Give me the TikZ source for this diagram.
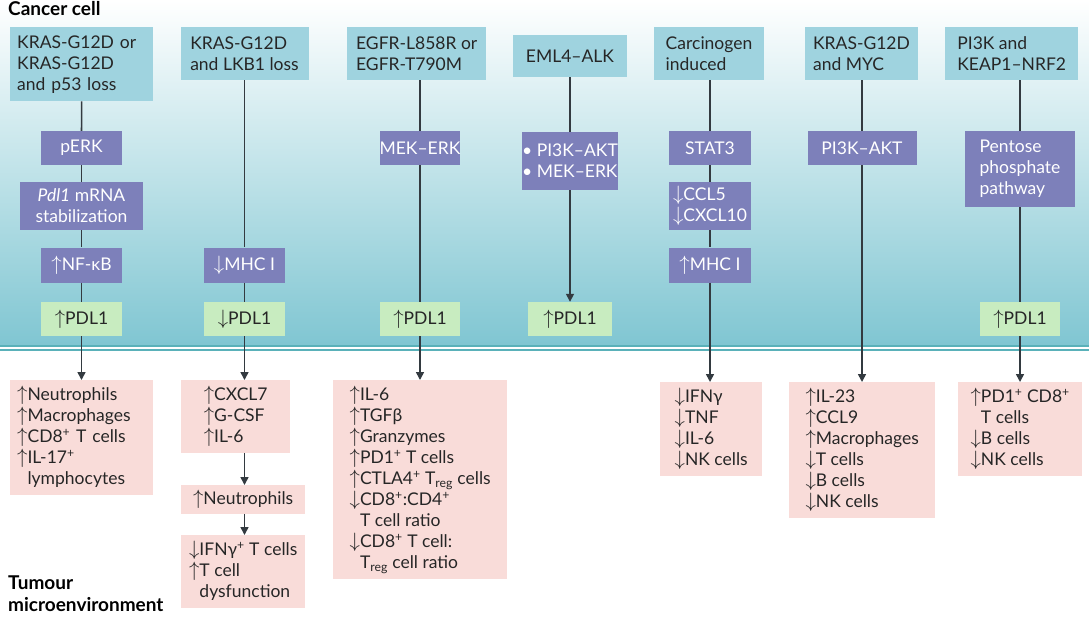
\documentclass[tikz,border=0pt]{standalone}
\usepackage{fontspec}
\setmainfont{Lato}
\usetikzlibrary{arrows.meta}
\definecolor{topc}{HTML}{9FD3DF}
\definecolor{purp}{HTML}{7D80BA}
\definecolor{grn}{HTML}{C8ECC0}
\definecolor{pnk}{HTML}{F9DCD9}
\definecolor{tealb}{HTML}{80C6D2}
\definecolor{lnc}{HTML}{333A40}
\newcommand\myup{{\fontsize{20}{20}\selectfont$\uparrow$}}
\newcommand\mydn{{\fontsize{20}{20}\selectfont$\downarrow$}}
\begin{document}
\begin{tikzpicture}[x=1pt,y=-1pt,
  every node/.style={font=\fontsize{17.5}{21}\selectfont, inner sep=0pt, anchor=north west},
  topb/.style={fill=topc, align=left, text=black!85, inner xsep=7pt, inner ysep=3pt},
  pur/.style={fill=purp, align=center, text=white},
  gr/.style={fill=grn, align=center, text=black!85},
  pk/.style={fill=pnk, align=left, text=black!85, inner xsep=7pt, inner ysep=6pt},
  ln/.style={draw=lnc, line width=1.6pt},
  ar/.style={ln, -{Triangle[width=8pt,length=8pt]}},
  hd/.style={font=\fontsize{19}{22}\selectfont\bfseries, align=left}]
\useasboundingbox (0,0) rectangle (1089,622);
\shade[top color=white, bottom color=tealb] (0,0) rectangle (1089,345);
\fill[white] (0,345) rectangle (1089,622);
\draw[draw=tealb!70!teal, line width=1.2pt] (0,346) -- (1089,346);
\draw[draw=tealb!70!teal, line width=1.2pt] (0,350) -- (1089,350);
\node[hd] (cc) at (8,1) {Cancer cell};
\node[hd] (tm) at (8,576) {Tumour\\microenvironment};
% column 1
\node[topb, minimum width=143pt, minimum height=74pt, text width=129pt] (t1) at (10,27) {KRAS-G12D or\\KRAS-G12D\\and p53 loss};
\node[pur, minimum width=81pt, minimum height=34pt, anchor=center] (a1) at (81.5,148) {pERK};
\node[pur, minimum width=123pt, minimum height=48pt, anchor=center] (b1) at (81.5,206) {\textit{Pdl1} mRNA\\stabilization};
\node[pur, minimum width=81pt, minimum height=35pt, anchor=center] (c1) at (81.5,265) {\myup NF-κB};
\node[gr, minimum width=81pt, minimum height=34pt, anchor=center] (g1) at (81.5,319) {\myup PDL1};
\node[pk, minimum width=143pt, text width=129pt] (p1) at (10,380) {\myup Neutrophils\\\myup Macrophages\\\myup CD8\textsuperscript{+} T cells\\\myup IL-17\textsuperscript{+}\\\phantom{\myup}lymphocytes};
\draw[ln] (t1) -- (a1); \draw[ln] (a1) -- (b1); \draw[ln] (b1) -- (c1); \draw[ln] (c1) -- (g1);
\draw[ar] (g1.south) -- (p1.north -| g1.south);
% column 2
\node[topb, minimum width=128pt, minimum height=53pt, anchor=center] (t2) at (244.5,53.5) {KRAS-G12D\\and LKB1 loss};
\node[pur, minimum width=81pt, minimum height=35pt, anchor=center] (c2) at (244.5,265) {\mydn MHC I};
\node[gr, minimum width=81pt, minimum height=34pt, anchor=center] (g2) at (244.5,319) {\mydn PDL1};
\node[pk, minimum width=109pt] (p2) at (181,380) {\myup CXCL7\\\myup G-CSF\\\myup IL-6};
\node[pk, minimum width=124pt, inner ysep=5pt] (q2) at (181,485) {\myup Neutrophils};
\node[pk, minimum width=124pt] (r2) at (181,535) {\mydn IFNγ\textsuperscript{+} T cells\\\myup T cell\\\phantom{\myup}dysfunction};
\draw[ln] (t2) -- (c2); \draw[ln] (c2) -- (g2);
\draw[ar] (g2.south) -- (p2.north -| g2.south);
\draw[ar] (p2.south -| g2.south) -- (q2.north -| g2.south);
\draw[ar] (q2.south -| g2.south) -- (r2.north -| g2.south);
% column 3
\node[topb, minimum width=139pt, minimum height=53pt] (t3) at (347,27) {EGFR-L858R or\\EGFR-T790M};
\node[pur, minimum width=80pt, minimum height=34pt, anchor=center] (a3) at (420,148) {MEK–ERK};
\node[gr, minimum width=80pt, minimum height=34pt, anchor=center] (g3) at (420,319) {\myup PDL1};
\node[pk, minimum width=174pt] (p3) at (333,380) {\myup IL-6\\\myup TGFβ\\\myup Granzymes\\\myup PD1\textsuperscript{+} T cells\\\myup CTLA4\textsuperscript{+} T\textsubscript{reg} cells\\\mydn CD8\textsuperscript{+}:CD4\textsuperscript{+}\\\phantom{\myup}T cell ratio\\\mydn CD8\textsuperscript{+} T cell:\\\phantom{\myup}T\textsubscript{reg} cell ratio};
\draw[ln] (t3.south -| a3) -- (a3); \draw[ln] (a3) -- (g3);
\draw[ar] (g3.south) -- (p3.north -| g3.south);
% column 4
\node[topb, minimum width=114pt, minimum height=42pt, anchor=center] (t4) at (570,56) {EML4–ALK};
\node[pur, minimum width=87pt, minimum height=58pt, anchor=center, align=left] (a4) at (570,161) {• PI3K–AKT\\• MEK–ERK};
\node[gr, minimum width=84pt, minimum height=34pt, anchor=center] (g4) at (570,319) {\myup PDL1};
\draw[ln] (t4) -- (a4); \draw[ar] (a4) -- (g4);
% column 5
\node[topb, minimum width=110pt, minimum height=53pt, anchor=center] (t5) at (709,53.5) {Carcinogen\\induced};
\node[pur, minimum width=82pt, minimum height=34pt, anchor=center] (a5) at (710,148) {STAT3};
\node[pur, minimum width=82pt, minimum height=48pt, anchor=center, align=left] (b5) at (710,206) {\mydn CCL5\\\mydn CXCL10};
\node[pur, minimum width=82pt, minimum height=35pt, anchor=center] (c5) at (710,265) {\myup MHC I};
\node[pk, minimum width=102pt] (p5) at (660,382) {\mydn IFNγ\\\mydn TNF\\\mydn IL-6\\\mydn NK cells};
\draw[ln] (t5.south -| a5) -- (a5); \draw[ln] (a5) -- (b5); \draw[ln] (b5) -- (c5);
\draw[ar] (c5.south) -- (p5.north -| c5.south);
% column 6
\node[topb, minimum width=113pt, minimum height=53pt, anchor=center] (t6) at (861.5,53.5) {KRAS-G12D\\and MYC};
\node[pur, minimum width=109pt, minimum height=34pt, anchor=center] (a6) at (862,148) {PI3K–AKT};
\node[pk, minimum width=146pt] (p6) at (789,382) {\myup IL-23\\\myup CCL9\\\myup Macrophages\\\mydn T cells\\\mydn B cells\\\mydn NK cells};
\draw[ln] (t6.south -| a6) -- (a6);
\draw[ar] (a6.south) -- (p6.north -| a6.south);
% column 7
\node[topb, minimum width=133pt, minimum height=53pt] (t7) at (945,27) {PI3K and\\KEAP1–NRF2};
\node[pur, minimum width=110pt, minimum height=76pt, anchor=center, align=left, inner xsep=6pt] (a7) at (1020,169) {Pentose\\phosphate\\pathway};
\node[gr, minimum width=80pt, minimum height=34pt, anchor=center] (g7) at (1020,319) {\myup PDL1};
\node[pk, minimum width=124pt] (p7) at (958,382) {\myup PD1\textsuperscript{+} CD8\textsuperscript{+}\\\phantom{\myup}T cells\\\mydn B cells\\\mydn NK cells};
\draw[ln] (t7.south -| a7) -- (a7); \draw[ln] (a7) -- (g7);
\draw[ar] (g7.south) -- (p7.north -| g7.south);
\end{tikzpicture}
\end{document}
